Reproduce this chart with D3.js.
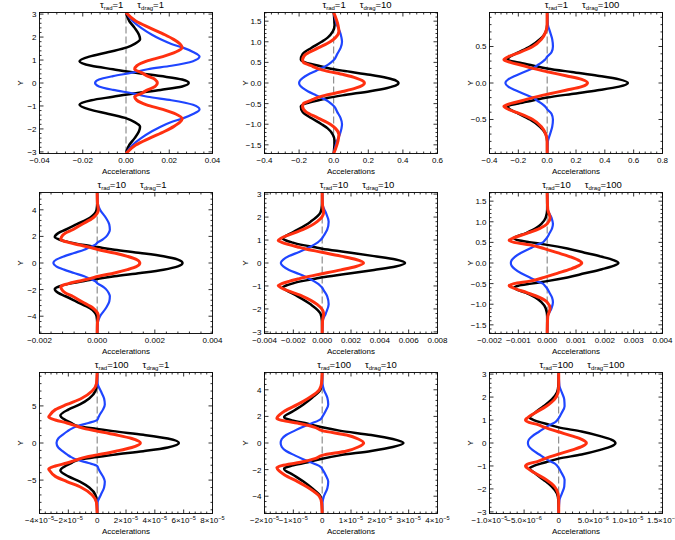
<!DOCTYPE html>
<html>
<head>
<meta charset="utf-8">
<script src="https://cdn.jsdelivr.net/npm/d3@7"></script>
<style>
  body { margin: 0; background: #fff; }
  svg { display: block; }
  text { font-family: "Liberation Sans", Arial, sans-serif; fill: #000; }
</style>
</head>
<body>
<div id="chart"></div>
<script>
// --- panel parameters (row major: tau_rad rows, tau_drag columns) ---
const tauRad  = [1, 1, 1, 10, 10, 10, 100, 100, 100];
const tauDrag = [1, 10, 100, 1, 10, 100, 1, 10, 100];

// y axis (half range, tick step, tick labels)
const yMax  = [3.07, 1.71, 0.966, 5.3, 3.07, 1.71, 9.5, 5.3, 3.07];
const yStep = [1, 0.5, 0.5, 2, 1, 0.5, 5, 2, 1];
const yLabelsInt  = ["−3", "−2", "−1", "0", "1", "2", "3"];
const yLabelsHalf = ["−1.5", "−1.0", "−0.5", "0.0", "0.5", "1.0", "1.5"];
const yLabelsEven = ["−4", "−2", "0", "2", "4"];
const yTickLabels = [
  yLabelsInt, yLabelsHalf, ["−0.5", "0.0", "0.5"],
  yLabelsEven, yLabelsInt, yLabelsHalf,
  ["−5", "0", "5"], yLabelsEven, yLabelsInt
];

// x axis, values in the unit of each panel (1, 1e-3, 1e-5, 1e-6)
const xDomain = [[-0.04, 0.04], [-0.4, 0.6], [-0.4, 0.8],
                 [-2, 4], [-4, 8], [-2, 4],
                 [-4, 8], [-2, 4], [-10, 15]];
const xStep = [0.02, 0.2, 0.2, 2, 2, 1, 2, 1, 5];
const xTickLabels = [
  ["−0.04", "−0.02", "0.00", "0.02", "0.04"],
  ["−0.4", "−0.2", "0.0", "0.2", "0.4", "0.6"],
  ["−0.4", "−0.2", "0.0", "0.2", "0.4", "0.6", "0.8"],
  ["−0.002", "0.000", "0.002", "0.004"],
  ["−0.004", "−0.002", "0.000", "0.002", "0.004", "0.006", "0.008"],
  ["−0.002", "−0.001", "0.000", "0.001", "0.002", "0.003", "0.004"],
  ["−4×10^−5", "−2×10^−5", "0", "2×10^−5", "4×10^−5", "6×10^−5", "8×10^−5"],
  ["−2×10^−5", "−1×10^−5", "0", "1×10^−5", "2×10^−5", "3×10^−5", "4×10^−5"],
  ["−1.0×10^−5", "−5.0×10^−6", "0", "5.0×10^−6", "1.0×10^−5", "1.5×10^−5"]
];

// --- accelerations, half profiles from y = top down to y = 0 (curves are symmetric in y) ---
// tau_rad=1, tau_drag=1
const yA     = [3.07, 2.7, 2.4, 2.1, 1.9, 1.7, 1.55, 1.35, 1.15, 0.95, 0.75, 0.6, 0.46, 0.3, 0.15, 0];
const blackA = [0, 0.0015, 0.004, 0.006, 0.0065, 0.004, 0.0005, -0.008, -0.017, -0.0215, -0.016, -0.006, 0.0035, 0.016, 0.026, 0.029];
const blueA  = [0, 0.003, 0.007, 0.012, 0.016, 0.021, 0.026, 0.031, 0.034, 0.031, 0.021, 0.010, 0.0035, -0.006, -0.0125, -0.0143];
const redA   = [0, 0.0045, 0.011, 0.018, 0.022, 0.025, 0.026, 0.023, 0.017, 0.0095, 0.005, 0.004, 0.007, 0.010, 0.0135, 0.0145];
// tau_rad=1, tau_drag=10
const yB     = [1.71, 1.4, 1.25, 1.1, 1.0, 0.85, 0.7, 0.57, 0.5, 0.45, 0.4, 0.36, 0.3, 0.2, 0.12, 0.06, 0];
const blackB = [0, 0.005, -0.005, -0.035, -0.07, -0.13, -0.18, -0.19, -0.165, -0.12, -0.07, -0.03, 0.05, 0.21, 0.31, 0.36, 0.375];
const blueB  = [0, 0.02, 0.035, 0.045, 0.048, 0.04, 0.02, 0.003, -0.015, -0.03, -0.05, -0.07, -0.1, -0.15, -0.18, -0.195, -0.2];
const redB   = [0, 0.025, 0.03, 0.01, -0.02, -0.09, -0.16, -0.18, -0.175, -0.15, -0.12, -0.1, -0.05, 0.06, 0.13, 0.165, 0.178];
// tau_rad=1, tau_drag=100
const yC     = [0.966, 0.8, 0.7, 0.6, 0.5, 0.42, 0.36, 0.32, 0.28, 0.24, 0.2, 0.15, 0.1, 0.05, 0];
const blackC = [0, 0, -0.01, -0.05, -0.12, -0.2, -0.26, -0.275, -0.2, -0.1, 0.0, 0.17, 0.35, 0.5, 0.56];
const blueC  = [0, 0.005, 0.02, 0.035, 0.04, 0.03, 0.0, -0.015, -0.04, -0.07, -0.1, -0.16, -0.22, -0.27, -0.29];
const redC   = [0, 0, -0.01, -0.04, -0.1, -0.19, -0.27, -0.30, -0.25, -0.17, -0.1, 0.01, 0.13, 0.24, 0.28];
// tau_rad=10, tau_drag=1   (x in 1e-3)
const yD     = [5.3, 4.5, 4.0, 3.4, 2.9, 2.5, 2.25, 1.95, 1.75, 1.55, 1.35, 1.2, 1.0, 0.75, 0.5, 0.25, 0];
const blackD = [0, 0, -0.02, -0.25, -0.72, -1.1, -1.35, -1.47, -1.3, -0.95, -0.45, 0.0, 0.6, 1.5, 2.3, 2.8, 2.96];
const blueD  = [0, 0.02, 0.1, 0.3, 0.42, 0.44, 0.4, 0.3, 0.18, 0.02, -0.08, -0.25, -0.45, -0.8, -1.15, -1.42, -1.52];
const redD   = [0, 0.01, 0.04, -0.14, -0.54, -0.85, -1.1, -1.24, -1.26, -1.0, -0.6, -0.3, 0.05, 0.6, 1.05, 1.38, 1.48];
// tau_rad=10, tau_drag=10   (x in 1e-3)
const yE     = [3.06, 2.5, 2.2, 1.8, 1.45, 1.2, 1.08, 0.98, 0.9, 0.8, 0.7, 0.62, 0.48, 0.3, 0.15, 0];
const blackE = [0, -0.02, -0.12, -0.8, -1.7, -2.45, -2.75, -2.5, -2.1, -1.5, -0.6, 0, 1.6, 3.6, 5.1, 5.75];
const blueE  = [0, 0.05, 0.25, 0.45, 0.35, 0.12, 0.0, -0.15, -0.3, -0.55, -0.85, -1.1, -1.6, -2.3, -2.7, -2.87];
const redE   = [0, 0.03, 0.1, -0.35, -1.35, -2.4, -2.85, -3.05, -2.8, -2.3, -1.7, -1.2, -0.1, 1.3, 2.35, 2.87];
// tau_rad=10, tau_drag=100   (x in 1e-3)
const yF     = [1.7, 1.3, 1.1, 0.95, 0.84, 0.72, 0.6, 0.55, 0.5, 0.44, 0.35, 0.25, 0.15, 0.07, 0];
const blackF = [0, 0, -0.05, -0.2, -0.4, -0.75, -1.15, -1.0, -0.55, 0, 0.7, 1.3, 1.9, 2.3, 2.47];
const blueF  = [0, 0.02, 0.15, 0.2, 0.17, 0.08, -0.02, -0.08, -0.15, -0.35, -0.6, -0.9, -1.12, -1.23, -1.26];
const redF   = [0, 0.02, 0.1, 0.0, -0.25, -0.7, -1.2, -1.32, -1.15, -0.6, -0.1, 0.35, 0.8, 1.08, 1.2];
// tau_rad=100, tau_drag=1   (x in 1e-5)
const yG     = [9.5, 8, 7, 6, 5.2, 4.5, 3.7, 3.5, 3.1, 2.7, 2.25, 1.9, 1.6, 1.1, 0.6, 0];
const blackG = [0, -0.02, -0.12, -0.55, -1.2, -2.0, -2.55, -2.5, -2.2, -1.8, -1.3, 0, 1.1, 3.2, 4.9, 5.67];
const blueG  = [0, 0.03, 0.25, 0.48, 0.53, 0.4, 0.15, 0.1, 0.0, -0.6, -1.4, -1.8, -2.05, -2.4, -2.7, -2.82];
const redG   = [0, -0.05, -0.35, -1.1, -2.1, -2.9, -3.3, -3.36, -2.9, -2.1, -1.4, -0.8, 0.0, 1.3, 2.4, 3.0];
// tau_rad=100, tau_drag=10   (x in 1e-5)
const yH     = [5.3, 4.5, 4.0, 3.4, 2.9, 2.4, 1.95, 1.85, 1.7, 1.45, 1.18, 0.93, 0.6, 0.3, 0];
const blackH = [0, -0.01, -0.06, -0.35, -0.65, -1.0, -1.32, -1.28, -1.05, -0.5, 0, 0.6, 1.7, 2.45, 2.82];
const blueH  = [0, 0.01, 0.06, 0.18, 0.21, 0.12, 0.0, -0.03, -0.12, -0.4, -0.7, -0.95, -1.25, -1.4, -1.44];
const redH   = [0, -0.02, -0.1, -0.45, -0.85, -1.3, -1.55, -1.57, -1.4, -0.75, -0.25, 0, 0.85, 1.25, 1.44];
// tau_rad=100, tau_drag=100   (x in 1e-6)
const yI     = [3.07, 2.5, 2.2, 1.9, 1.6, 1.3, 1.1, 1.0, 0.9, 0.8, 0.68, 0.5, 0.3, 0.15, 0];
const blackI = [0, -0.05, -0.25, -1.0, -2.2, -3.5, -4.2, -3.6, -2.6, -1.4, 0, 3.3, 6.0, 7.6, 8.2];
const blueI  = [0, 0.1, 0.45, 0.8, 0.85, 0.4, 0.05, -0.2, -0.55, -1.2, -1.9, -2.8, -3.8, -4.3, -4.45];
const redI   = [0, 0, -0.1, -0.6, -1.8, -3.5, -4.5, -4.8, -4.3, -3.0, -2.0, -0.2, 2.0, 3.4, 4.0];

const profiles = [
  { y: yA, black: blackA, blue: blueA, red: redA },
  { y: yB, black: blackB, blue: blueB, red: redB },
  { y: yC, black: blackC, blue: blueC, red: redC },
  { y: yD, black: blackD, blue: blueD, red: redD },
  { y: yE, black: blackE, blue: blueE, red: redE },
  { y: yF, black: blackF, blue: blueF, red: redF },
  { y: yG, black: blackG, blue: blueG, red: redG },
  { y: yH, black: blackH, blue: blueH, red: redH },
  { y: yI, black: blackI, blue: blueI, red: redI }
];

const seriesColors = { black: "#000000", blue: "#1f45ff", red: "#ff3010" };
const seriesWidths = { black: 2.5, blue: 2.2, red: 3 };

// ---------------------------------------------------------------
const width = 675, height = 540;
const cellW = 225, cellH = 180;
const frame = { left: 39.5, right: 212.5, top: 12.5, bottom: 153.5 };
const nMinor = 5;
const fs = 8;

const svg = d3.select("#chart").append("svg")
    .attr("width", width)
    .attr("height", height);

// mirror a half profile into a full one, ordered by y
function fullProfile(ys, xs) {
  const lower = ys.map((y, i) => [-y, xs[i]]);
  const upper = ys.slice(0, -1).map((y, i) => [y, xs[i]]).reverse();
  return lower.concat(upper);
}

// text with "^" exponent part drawn as superscript
function setLabel(sel, label, size) {
  const parts = label.split("^");
  sel.append("tspan").text(parts[0]);
  if (parts.length > 1) {
    sel.append("tspan")
        .attr("font-size", size * 0.7)
        .attr("dy", -size * 0.42)
        .text(parts[1]);
  }
}

profiles.forEach((prof, k) => {
  const col = k % 3, row = Math.floor(k / 3);
  const g = svg.append("g")
      .attr("transform", `translate(${col * cellW}, ${row * cellH})`);

  const x = d3.scaleLinear().domain(xDomain[k]).range([frame.left, frame.right]);
  const y = d3.scaleLinear().domain([-yMax[k], yMax[k]]).range([frame.bottom, frame.top]);

  const clipId = `clip${k}`;
  g.append("clipPath").attr("id", clipId)
    .append("rect")
      .attr("x", frame.left).attr("y", frame.top)
      .attr("width", frame.right - frame.left)
      .attr("height", frame.bottom - frame.top);

  // ticks
  const xs = xStep[k];
  const xMajor = d3.range(0, xTickLabels[k].length).map(i => xDomain[k][0] + i * xs);
  const xMinor = [];
  xMajor.slice(0, -1).forEach(v => {
    for (let j = 1; j < nMinor; j++) xMinor.push(v + j * xs / nMinor);
  });
  const ys = yStep[k];
  const y0 = -ys * (yTickLabels[k].length - 1) / 2;
  const yMajor = d3.range(0, yTickLabels[k].length).map(i => y0 + i * ys);
  const yMinor = [];
  d3.range(-1, yTickLabels[k].length).forEach(i => {
    const v = y0 + i * ys;
    for (let j = 1; j < nMinor; j++) {
      const m = v + j * ys / nMinor;
      if (Math.abs(m) <= yMax[k]) yMinor.push(m);
    }
  });

  const ticks = g.append("g").attr("stroke", "#000").attr("stroke-width", 0.8);
  const tickSet = (vals, len) => {
    vals.forEach(v => {
      const px = x(v);
      ticks.append("line").attr("x1", px).attr("x2", px)
          .attr("y1", frame.bottom).attr("y2", frame.bottom - len);
      ticks.append("line").attr("x1", px).attr("x2", px)
          .attr("y1", frame.top).attr("y2", frame.top + len);
    });
  };
  const tickSetY = (vals, len) => {
    vals.forEach(v => {
      const py = y(v);
      ticks.append("line").attr("y1", py).attr("y2", py)
          .attr("x1", frame.left).attr("x2", frame.left + len);
      ticks.append("line").attr("y1", py).attr("y2", py)
          .attr("x1", frame.right).attr("x2", frame.right - len);
    });
  };
  tickSet(xMajor, 4);
  tickSet(xMinor, 2);
  tickSetY(yMajor, 4);
  tickSetY(yMinor, 2);

  // tick labels
  xMajor.forEach((v, i) => {
    const t = g.append("text")
        .attr("x", x(v))
        .attr("y", frame.bottom + 9.5)
        .attr("text-anchor", "middle")
        .attr("font-size", fs);
    setLabel(t, xTickLabels[k][i], fs);
  });
  yMajor.forEach((v, i) => {
    g.append("text")
        .attr("x", frame.left - 3)
        .attr("y", y(v) + 2.9)
        .attr("text-anchor", "end")
        .attr("font-size", fs)
        .text(yTickLabels[k][i]);
  });

  // axis titles
  g.append("text")
      .attr("x", (frame.left + frame.right) / 2)
      .attr("y", frame.bottom + 20.5)
      .attr("text-anchor", "middle")
      .attr("font-size", fs)
      .text("Accelerations");
  g.append("text")
      .attr("transform", `translate(${frame.left - 17}, ${(frame.top + frame.bottom) / 2}) rotate(-90)`)
      .attr("text-anchor", "middle")
      .attr("font-size", fs)
      .text("Y");

  // panel title
  const title = g.append("text")
      .attr("x", (frame.left + frame.right) / 2 + 6)
      .attr("y", 8.3)
      .attr("text-anchor", "middle")
      .attr("font-size", 9.5);
  title.append("tspan").text("τ");
  title.append("tspan").attr("font-size", 6).attr("dy", 1.8).text("rad");
  title.append("tspan").attr("dy", -1.8).text(`=${tauRad[k]}`);
  title.append("tspan").attr("dx", 14).text("τ");
  title.append("tspan").attr("font-size", 6).attr("dy", 1.8).text("drag");
  title.append("tspan").attr("dy", -1.8).text(`=${tauDrag[k]}`);

  // zero line
  const plot = g.append("g").attr("clip-path", `url(#${clipId})`);
  plot.append("line")
      .attr("x1", x(0)).attr("x2", x(0))
      .attr("y1", y(-yMax[k])).attr("y2", y(yMax[k]))
      .attr("stroke", "#555")
      .attr("stroke-width", 0.8)
      .attr("stroke-dasharray", "7,3");

  const line = d3.line()
      .x(d => x(d[1]))
      .y(d => y(d[0]))
      .curve(d3.curveMonotoneY);

  ["black", "blue", "red"].forEach(s => {
    plot.append("path")
        .datum(fullProfile(prof.y, prof[s]))
        .attr("d", line)
        .attr("fill", "none")
        .attr("stroke", seriesColors[s])
        .attr("stroke-width", seriesWidths[s])
        .attr("stroke-linejoin", "round");
  });

  // frame
  g.append("rect")
      .attr("x", frame.left).attr("y", frame.top)
      .attr("width", frame.right - frame.left)
      .attr("height", frame.bottom - frame.top)
      .attr("fill", "none")
      .attr("stroke", "#000")
      .attr("stroke-width", 0.9);
});
</script>
</body>
</html>
